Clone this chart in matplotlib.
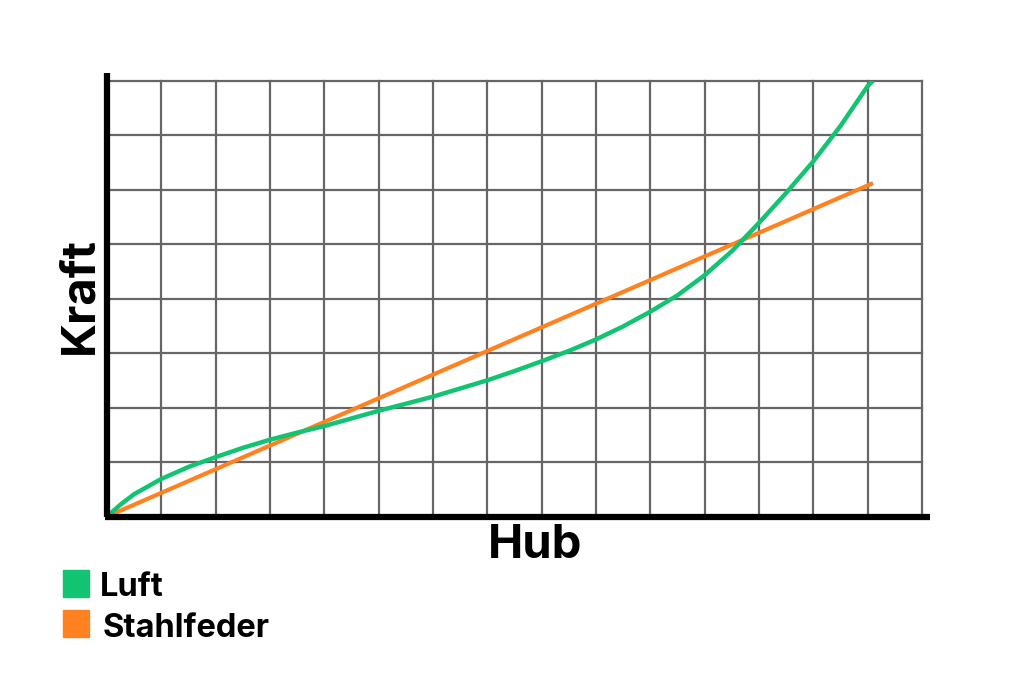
import numpy as np
import matplotlib
matplotlib.use('Agg')
from matplotlib import pyplot as plt
from matplotlib.patches import Rectangle

# Hub (x in grid units) vs Kraft
hub = [0, 0.25, 0.5, 1, 1.5, 2, 2.5, 3, 3.5, 4, 4.5, 5, 5.5, 6, 6.5, 7, 7.5,
       8, 8.5, 9, 9.5, 10, 10.5, 11, 11.5, 12, 12.5, 13, 13.5, 14, 14.1]
luft = [0, 0.22, 0.41, 0.69, 0.91, 1.09, 1.26, 1.41, 1.54, 1.66, 1.80, 1.94,
        2.07, 2.20, 2.35, 2.50, 2.67, 2.85, 3.04, 3.25, 3.49, 3.76, 4.06, 4.43,
        4.87, 5.39, 5.94, 6.52, 7.17, 7.90, 8.0]
stahl_hub = [0, 14.1]
stahlfeder = [0, 6.12]

labels = ['Luft', 'Stahlfeder']
colors = ['#12c472', '#ff8120']

W, H = 1024, 685
fig = plt.figure(figsize=(W / 100, H / 100), dpi=100)
x0, x1 = 107, 922
y0, y1 = 516.5, 80.7
ax = fig.add_axes([x0 / W, 1 - y0 / H, (x1 - x0) / W, (y0 - y1) / H])
ax.set_xlim(0, 15)
ax.set_ylim(0, 8)
ax.set_xticks(range(16))
ax.set_yticks(range(9))
ax.tick_params(length=0, labelbottom=False, labelleft=False)
ax.grid(True, color='#666666', lw=1.6)
for gl in ax.get_xgridlines() + ax.get_ygridlines():
    gl.set_clip_on(False)
for s in ax.spines.values():
    s.set_visible(False)

ax.plot(hub, luft, color=colors[0], lw=3.2, zorder=4, solid_capstyle='butt')
ax.plot(stahl_hub, stahlfeder, color=colors[1], lw=3.0, zorder=3, solid_capstyle='butt')

# thick axes, a bit longer than the grid
ax.plot([0, 0], [0, 8.15], color='black', lw=4.5, clip_on=False, zorder=5, solid_capstyle='butt')
ax.plot([-0.04, 15.15], [0, 0], color='black', lw=4.5, clip_on=False, zorder=5, solid_capstyle='butt')

font = 'Inter'
fig.text(535 / W, 1 - 546 / H, 'Hub', ha='center', va='center', fontsize=34,
         fontweight='bold', family=font)
fig.text(80 / W, 1 - 296 / H, 'Kraft', ha='center', va='center', rotation=90,
         fontsize=34, fontweight='bold', family=font)

for i, (lab, c) in enumerate(zip(labels, colors)):
    top = 570 + i * 39.5
    fig.patches.append(Rectangle((63 / W, 1 - (top + 27) / H), 26 / W, 27 / H,
                                 transform=fig.transFigure, color=c))
    fig.text((100 + 3 * i) / W, 1 - (top + 17 + 2 * i) / H, lab, ha='left', va='center',
             fontsize=23.5, fontweight='bold', family=font)

fig.savefig('out.png', dpi=100)
